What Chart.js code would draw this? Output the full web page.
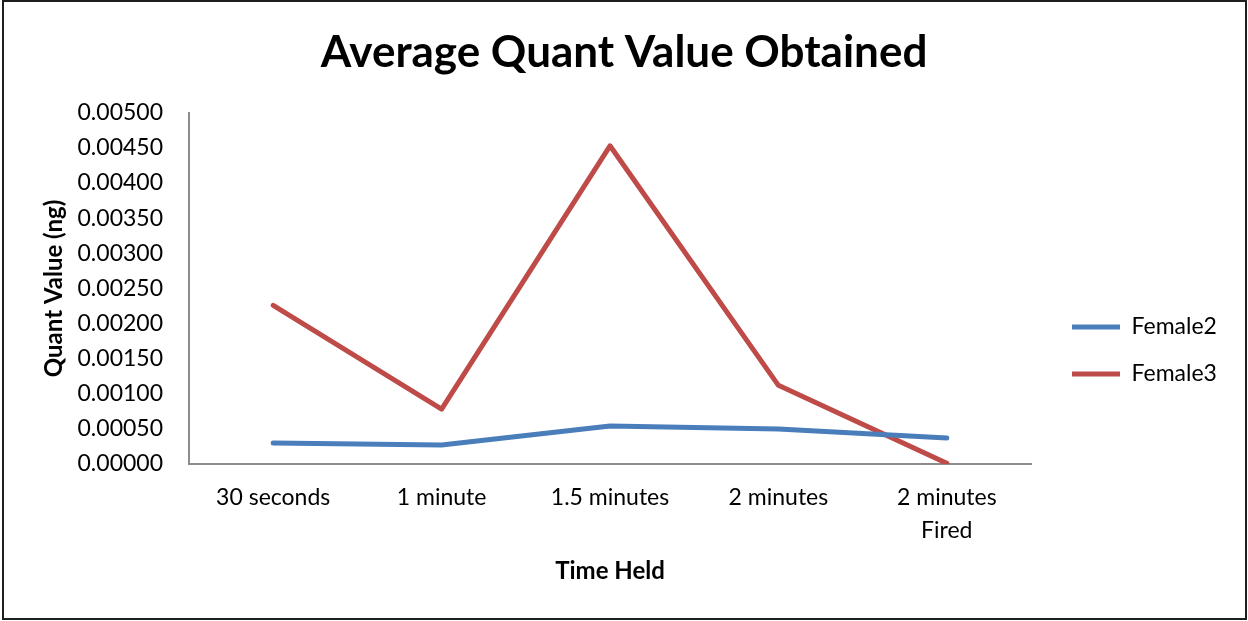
<!DOCTYPE html>
<html>
<head>
<meta charset="utf-8">
<script src="https://cdn.jsdelivr.net/npm/chart.js@4"></script>
<style>
  html, body { margin: 0; padding: 0; background: #ffffff; }
  #wrap { position: relative; width: 1248px; height: 621px; }
  #frame { position: absolute; left: 2px; top: 0px; width: 1245px; height: 620px; box-sizing: border-box; border: 2px solid #1e1e1e; pointer-events: none; }
  canvas { position: absolute; left: 0; top: 0; }
</style>
</head>
<body>
<div id="wrap">
  <canvas id="c" width="1248" height="621"></canvas>
  <div id="frame"></div>
</div>
<script>
const categories = ['30 seconds', '1 minute', '1.5 minutes', '2 minutes', ['2 minutes', 'Fired']];
const female2 = [0.00030, 0.00027, 0.00054, 0.00050, 0.00037];
const female3 = [0.00226, 0.00078, 0.00453, 0.00112, 0.00001];
const seriesNames = ['Female2', 'Female3'];
const chartTitle = 'Average Quant Value Obtained';
const yTitle = 'Quant Value (ng)';
const xTitle = 'Time Held';

const FONT = "Lato, 'Open Sans', sans-serif";
const PLOT_LEFT = 189, PLOT_RIGHT = 1031, PLOT_TOP = 113, PLOT_BOTTOM = 464;
const LEGEND_LINE_X = 1072, LEGEND_FIRST_Y = 327;

const legendPlacer = {
  id: 'legendPlacer',
  afterLayout(chart) {
    const L = chart.legend;
    if (!L) return;
    const pad = L.options.labels.padding;
    const dx = (LEGEND_LINE_X - pad) - L.left;
    L.left += dx; L.right += dx;
    const fs = L.options.labels.font.size;
    const dy = (LEGEND_FIRST_Y - fs / 2 - pad) - L.top;
    L.top += dy; L.bottom += dy;
  }
};

new Chart(document.getElementById('c'), {
  type: 'line',
  data: {
    labels: categories,
    datasets: [
      { label: seriesNames[0], data: female2, borderColor: '#4a7ebb', backgroundColor: '#4a7ebb', borderWidth: 5, pointRadius: 0, tension: 0, borderCapStyle: 'round', borderJoinStyle: 'round', yAxisID: 'y' },
      { label: seriesNames[1], data: female3, borderColor: '#be4b48', backgroundColor: '#be4b48', borderWidth: 5, pointRadius: 0, tension: 0, borderCapStyle: 'round', borderJoinStyle: 'round', yAxisID: 'y' }
    ]
  },
  options: {
    responsive: false,
    animation: false,
    devicePixelRatio: 1,
    layout: { padding: { left: 0, right: 0, top: 0, bottom: 0 } },
    plugins: {
      title: {
        display: true,
        text: chartTitle,
        color: '#000000',
        font: { family: FONT, size: 44, weight: 'bold', lineHeight: 1.2 },
        padding: { top: 26, bottom: 34 }
      },
      legend: {
        display: true,
        position: 'right',
        align: 'start',
        labels: {
          color: '#000000',
          font: { family: FONT, size: 23 },
          usePointStyle: true,
          pointStyle: 'line',
          pointStyleWidth: 48,
          boxHeight: 23,
          padding: 24
        }
      },
      tooltip: { enabled: false }
    },
    scales: {
      x: {
        type: 'category',
        offset: true,
        grid: { display: false, drawTicks: false },
        border: { display: true, color: '#8c8c8c', width: 2 },
        ticks: { color: '#000000', font: { family: FONT, size: 23, lineHeight: 1.435 }, padding: 17, maxRotation: 0, autoSkip: false },
        title: { display: true, text: xTitle, color: '#000000', font: { family: FONT, size: 24, weight: 'bold', lineHeight: 1.2 }, padding: { top: 0, bottom: 35 } },
        afterFit(s) { s.height = 621 - PLOT_BOTTOM; }
      },
      y: {
        type: 'linear',
        position: 'left',
        min: 0,
        max: 0.005,
        grid: { display: false, drawTicks: false },
        border: { display: true, color: '#8c8c8c', width: 2 },
        ticks: {
          stepSize: 0.0005,
          color: '#000000',
          font: { family: FONT, size: 23 },
          padding: 26,
          callback: (v) => Number(v).toFixed(5)
        },
        title: { display: true, text: yTitle, color: '#000000', font: { family: FONT, size: 24, weight: 'bold', lineHeight: 1.2 }, padding: { top: 40, bottom: 0 } },
        afterFit(s) { s.width = PLOT_LEFT; }
      },
      gap: {
        type: 'linear',
        position: 'right',
        display: true,
        grid: { display: false, drawTicks: false },
        border: { display: false },
        ticks: { display: false },
        afterFit(s) {
          const lw = s.chart.legend ? s.chart.legend.width : 0;
          s.width = Math.max(0, s.chart.width - lw - PLOT_RIGHT);
        }
      }
    }
  },
  plugins: [legendPlacer]
});
</script>
</body>
</html>
